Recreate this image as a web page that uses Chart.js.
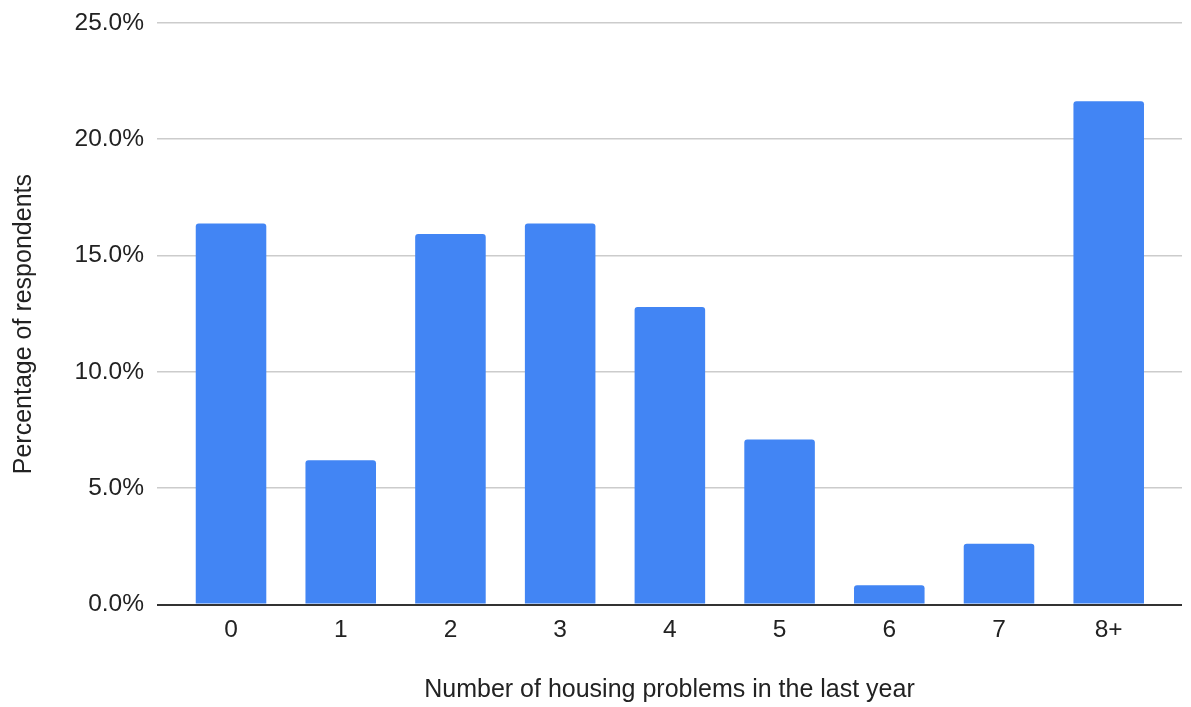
<!DOCTYPE html>
<html>
<head>
<meta charset="utf-8">
<script src="https://cdn.jsdelivr.net/npm/chart.js@4/dist/chart.umd.min.js"></script>
<style>
  html, body { margin: 0; padding: 0; background: #fff; }
  #wrap { width: 1191px; height: 707px; }
</style>
</head>
<body>
<div id="wrap"><canvas id="housing"></canvas></div>
<script>
// survey results: share of respondents by number of housing problems
const categories = ['0', '1', '2', '3', '4', '5', '6', '7', '8+'];
const percentRespondents = [16.38, 6.20, 15.93, 16.38, 12.79, 7.09, 0.83, 2.62, 21.63];
const yTicks = [0, 5, 10, 15, 20, 25];

const textColor = '#222';
const family = "'Liberation Sans', Arial, sans-serif";
const tickFont = { family: family, size: 24.5 };
const titleFont = { family: family, size: 25 };

// linear x axis so the bars can sit inside a wider plot area
const points = categories.map((c, i) => ({ x: i, y: percentRespondents[i] }));

new Chart(document.getElementById('housing'), {
    type: 'bar',
    data: {
        datasets: [{
            data: points,
            backgroundColor: '#4285f4',
            borderRadius: 3,
            borderSkipped: 'start',
            categoryPercentage: 1,
            barPercentage: 0.643
        }]
    },
    options: {
        responsive: true,
        maintainAspectRatio: false,
        animation: false,
        layout: { padding: { top: 0, right: 9, left: 0, bottom: 0 } },
        plugins: {
            legend: { display: false },
            tooltip: { enabled: false }
        },
        scales: {
            x: {
                type: 'linear',
                offset: false,
                min: -0.675,
                max: 8.668,
                afterBuildTicks: (axis) => { axis.ticks = categories.map((c, i) => ({ value: i })); },
                grid: { display: false },
                border: { display: false },
                ticks: {
                    autoSkip: false,
                    maxRotation: 0,
                    padding: 3,
                    color: textColor,
                    font: tickFont,
                    callback: (v) => categories[v] !== undefined ? categories[v] : ''
                },
                title: {
                    display: true,
                    text: 'Number of housing problems in the last year',
                    color: textColor,
                    font: titleFont,
                    padding: { top: 27, bottom: 2 }
                }
            },
            y: {
                min: yTicks[0],
                max: yTicks[yTicks.length - 1],
                afterBuildTicks: (axis) => { axis.ticks = yTicks.map(v => ({ value: v })); },
                grid: {
                    drawTicks: false,
                    color: (ctx) => ctx.tick.value === 0 ? '#333' : '#ccc',
                    lineWidth: (ctx) => ctx.tick.value === 0 ? 2 : 1.5
                },
                border: { display: false },
                ticks: {
                    padding: 13,
                    color: textColor,
                    font: { family: family, size: 24.5, lineHeight: 0.8 },
                    callback: (v) => v.toFixed(1) + '%'
                },
                title: {
                    display: true,
                    // trailing spaces nudge the rotated title a little lower
                    text: 'Percentage of respondents   ',
                    color: textColor,
                    font: titleFont,
                    padding: { top: 9, bottom: 22.5 }
                }
            }
        }
    }
});
</script>
</body>
</html>
